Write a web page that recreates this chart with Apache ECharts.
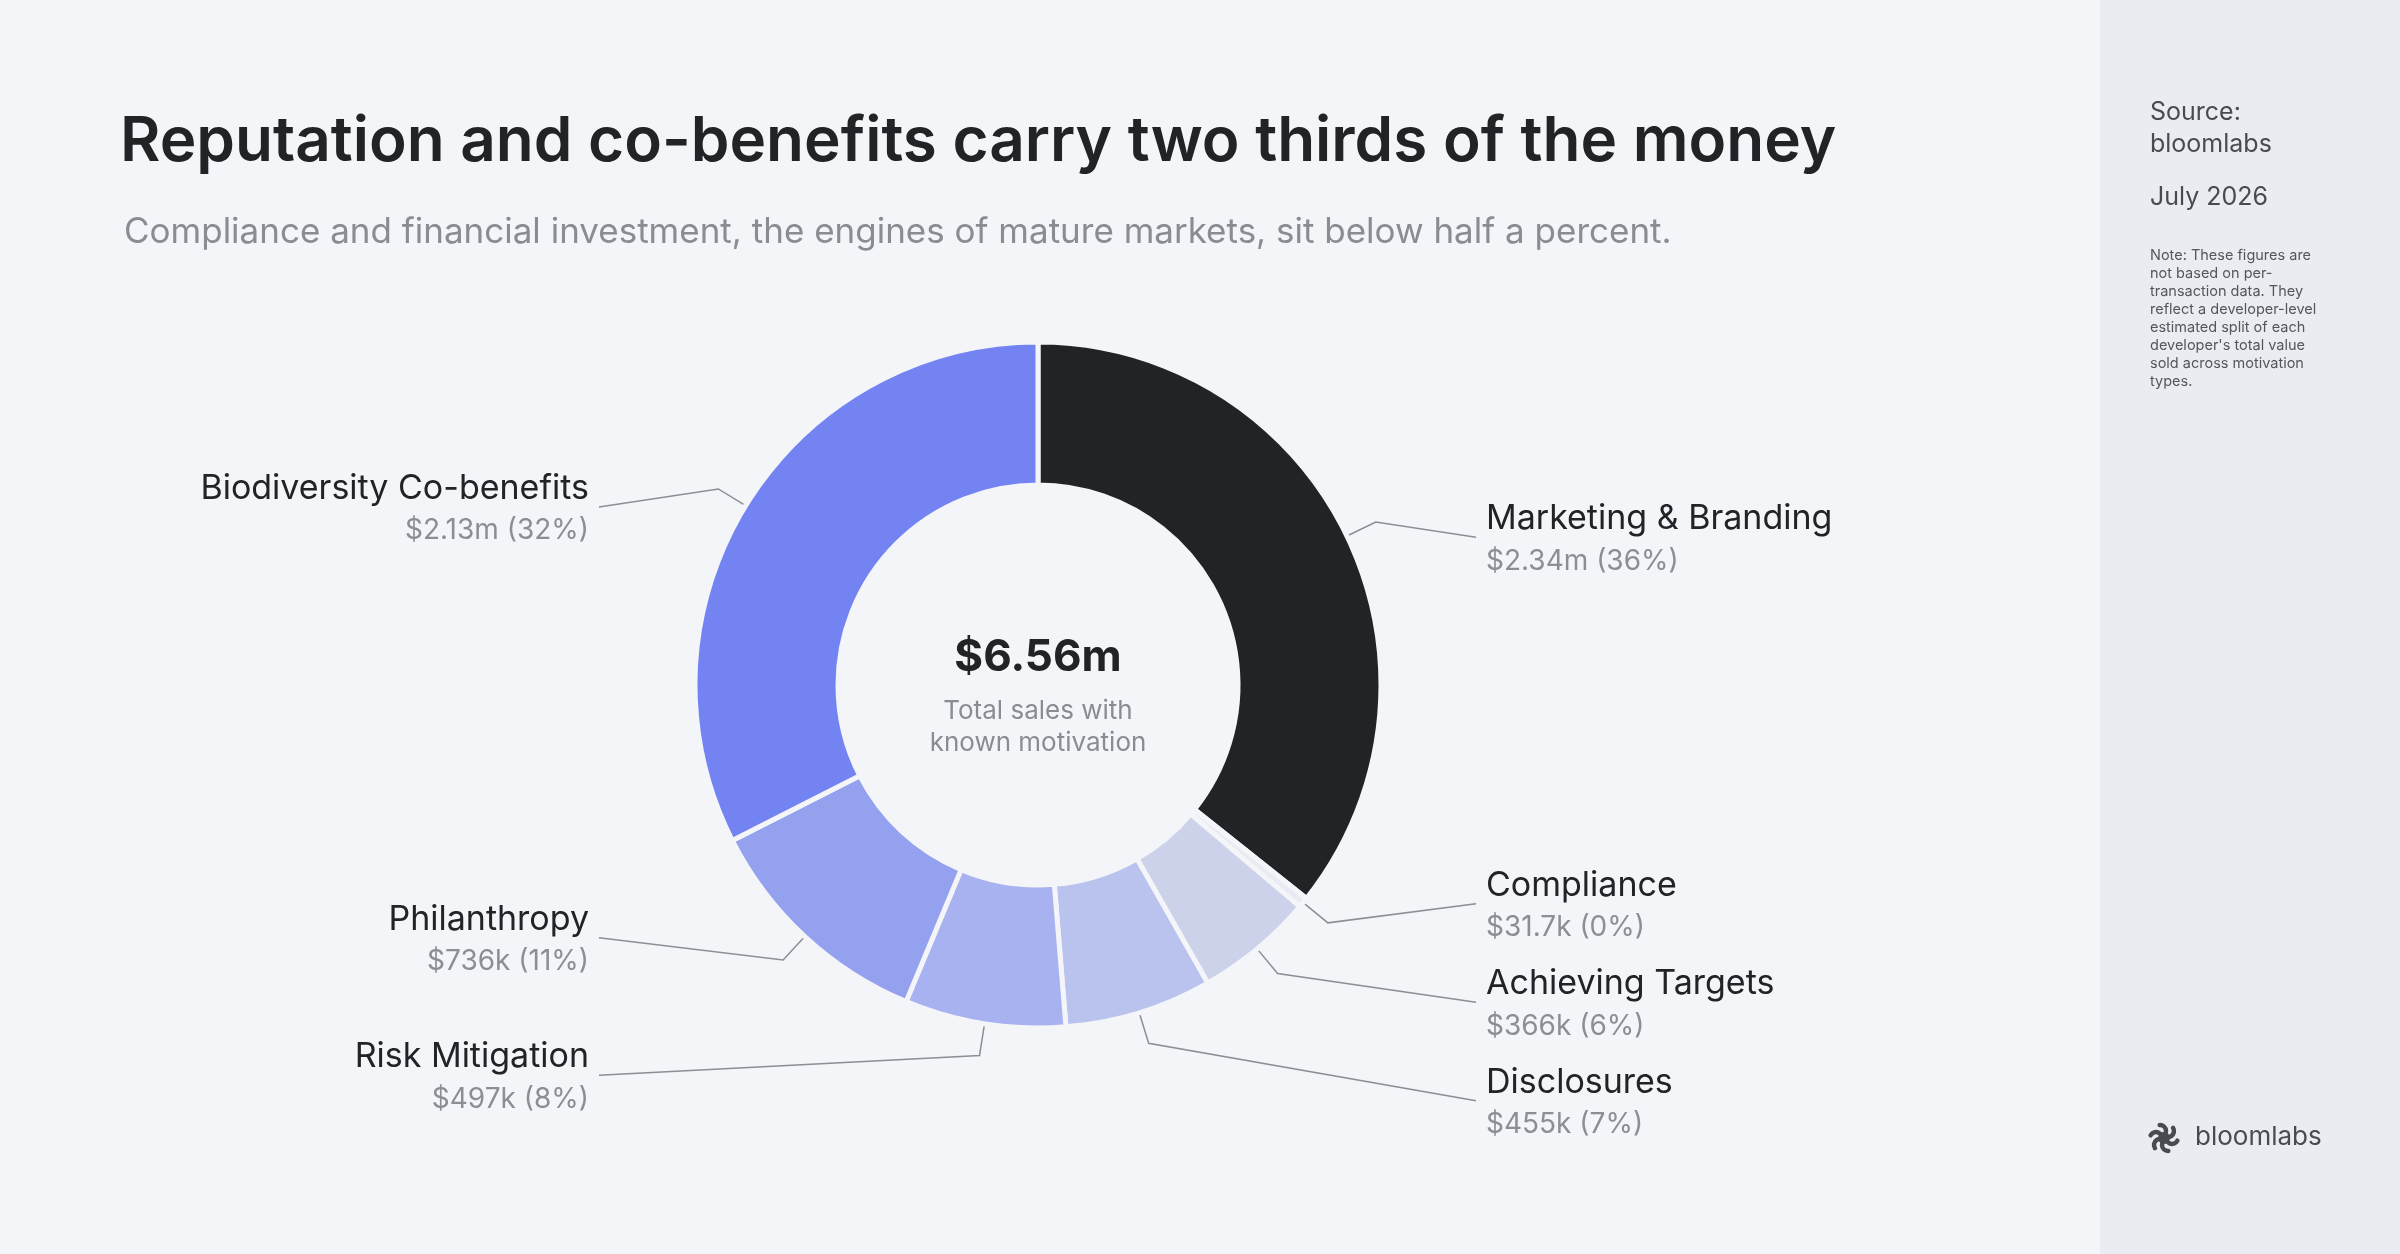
<!DOCTYPE html>
<html>
<head>
<meta charset="utf-8">
<script src="https://cdn.jsdelivr.net/npm/echarts@6/dist/echarts.min.js"></script>
<style>
html,body{margin:0;padding:0;background:#f4f5f9;}
#chart{width:2400px;height:1254px;}
</style>
</head>
<body>
<div id="chart"></div>
<script>
// ---- data ----
const categories = ['Marketing & Branding', 'Compliance', 'Achieving Targets', 'Disclosures', 'Risk Mitigation', 'Philanthropy', 'Biodiversity Co-benefits'];
const salesValues = [2340000, 31700, 366000, 455000, 497000, 736000, 2130000];
const sliceColors = ['#222327', '#e9ebf3', '#cdd2eb', '#bac2ee', '#a8b2f0', '#94a1ee', '#7384f2'];
const titleText = 'Reputation and co-benefits carry two thirds of the money';
const subtitleText = 'Compliance and financial investment, the engines of mature markets, sit below half a percent.';
const centerCaption = 'Total sales with\nknown motivation';
const sourceText = 'Source:\nbloomlabs';
const dateText = 'July 2026';
const noteText = 'Note: These figures are\nnot based on per-\ntransaction data. They\nreflect a developer-level\nestimated split of each\ndeveloper\'s total value\nsold across motivation\ntypes.';
const brandText = 'bloomlabs';
// extra spacing kept around particular labels when they are spread apart
const labelSpacing = {'Risk Mitigation': 103};

// ---- helpers ----
function fmtMoney(v) {
  if (v >= 1e6) return '$' + (v / 1e6).toFixed(2) + 'm';
  if (v >= 1e5) return '$' + Math.round(v / 1000) + 'k';
  return '$' + (v / 1000).toFixed(1) + 'k';
}
const total = salesValues.reduce((a, b) => a + b, 0);

const FONT = 'Inter, "Noto Sans", sans-serif';
const BG = '#f4f5f9';
const PANEL = '#ebecf1';
const CX = 1038, CY = 685;
const LEFT_COL = 589, RIGHT_COL = 1486, LINE_GAP = 10, ELBOW = 32;

const chart = echarts.init(document.getElementById('chart'), null, {renderer: 'canvas'});

// logo petals
const logoCX = 2164, logoCY = 1138;
const petals = [];
for (let i = 0; i < 6; i++) {
  const a = i * Math.PI / 3;
  petals.push({
    type: 'arc',
    shape: {cx: logoCX + Math.cos(a) * 8, cy: logoCY + Math.sin(a) * 8, r: 6, startAngle: a + Math.PI * 0.15, endAngle: a + Math.PI * 1.15},
    style: {stroke: '#4a4b50', lineWidth: 4.5, fill: null, lineCap: 'round'},
    silent: true
  });
}

const option = {
  backgroundColor: BG,
  animation: false,
  graphic: [
    {type: 'rect', shape: {x: 2100, y: 0, width: 300, height: 1254}, style: {fill: PANEL}, silent: true, z: -10},
    {type: 'text', x: 120, y: 111, style: {text: titleText, font: '600 62px ' + FONT, fill: '#222327'}},
    {type: 'text', x: 124, y: 215, style: {text: subtitleText, font: '400 35px ' + FONT, fill: '#8b8b92'}},
    {type: 'text', x: CX, y: CY - 5, style: {text: fmtMoney(total), font: '700 44px ' + FONT, fill: '#222327', align: 'center', verticalAlign: 'bottom'}},
    {type: 'text', x: CX, y: CY + 10, style: {text: centerCaption, font: '400 26px ' + FONT, fill: '#8b8b92', align: 'center', verticalAlign: 'top', lineHeight: 32}},
    {type: 'text', x: 2150, y: 96, style: {text: sourceText, font: '400 25px ' + FONT, fill: '#4a4b50', lineHeight: 32}},
    {type: 'text', x: 2150, y: 185, style: {text: dateText, font: '400 25px ' + FONT, fill: '#4a4b50'}},
    {type: 'text', x: 2150, y: 247, style: {text: noteText, font: '400 14.5px ' + FONT, fill: '#55565b', lineHeight: 18}},
    {type: 'text', x: 2195, y: 1124, style: {text: brandText, font: '400 26px ' + FONT, fill: '#4a4b50'}}
  ].concat(petals),
  series: [{
    type: 'pie',
    center: [CX, CY],
    radius: [200, 343],
    startAngle: 90,
    clockwise: true,
    avoidLabelOverlap: true,
    emphasis: {disabled: true},
    silent: true,
    itemStyle: {borderColor: BG, borderWidth: 5},
    label: {
      show: true,
      position: 'outer',
      alignTo: 'none',
      distanceToLabelLine: LINE_GAP,
      minMargin: 25,
      padding: [4, 0, 0, 0],
      formatter: function (p) {
        return '{n|' + p.name + '}\n{v|' + fmtMoney(p.value) + ' (' + Math.round(p.percent) + '%)}';
      },
      rich: {
        n: {fontFamily: FONT, fontSize: 34, color: '#222327', lineHeight: 44},
        v: {fontFamily: FONT, fontSize: 28, color: '#8d8d95', lineHeight: 41}
      }
    },
    labelLine: {show: true, length: 0, length2: 120, lineStyle: {color: '#8d8d93', width: 1.5}},
    labelLayout: function (p) {
      const pts = p.labelLinePoints;
      if (!pts) return {};
      const s = pts[0];
      const dx = s[0] - CX, dy = s[1] - CY;
      const d = Math.sqrt(dx * dx + dy * dy) || 1;
      const isLeft = dx < 0;
      const ly = p.labelRect.y + p.labelRect.height / 2;
      const ex = isLeft ? LEFT_COL + LINE_GAP : RIGHT_COL - LINE_GAP;
      return {
        x: isLeft ? LEFT_COL : RIGHT_COL,
        y: ly,
        align: isLeft ? 'right' : 'left',
        verticalAlign: 'middle',
        labelLinePoints: [[s[0], s[1]], [s[0] + dx / d * ELBOW, s[1] + dy / d * ELBOW], [ex, ly]]
      };
    },
    data: categories.map((c, i) => {
      const item = {name: c, value: salesValues[i], itemStyle: {color: sliceColors[i]}};
      if (labelSpacing[c] != null) item.label = {minMargin: labelSpacing[c]};
      return item;
    })
  }]
};
chart.setOption(option);
</script>
</body>
</html>
